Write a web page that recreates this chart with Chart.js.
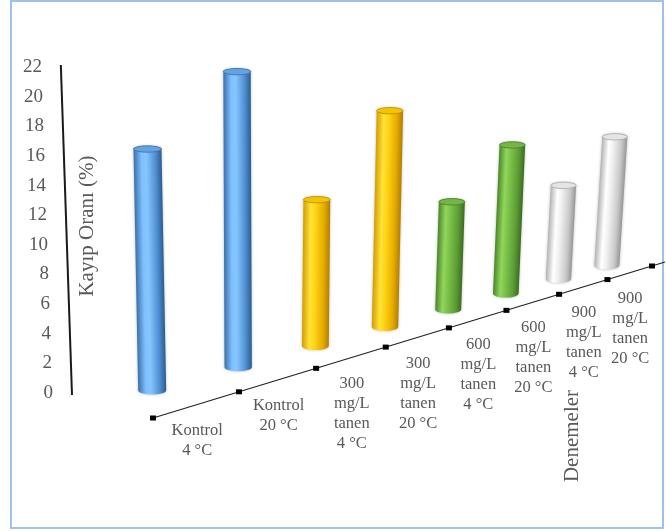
<!DOCTYPE html>
<html>
<head>
<meta charset="utf-8">
<script src="https://cdn.jsdelivr.net/npm/chart.js@4.4.1/dist/chart.umd.min.js"></script>
<style>
html,body{margin:0;padding:0;background:#fff;}
canvas{display:block;}
</style>
</head>
<body>
<canvas id="lossChart" width="666" height="531"></canvas>
<script>
const categories = [
    ["Kontrol","4 °C"],
    ["Kontrol","20 °C"],
    ["300","mg/L","tanen","4 °C"],
    ["300","mg/L","tanen","20 °C"],
    ["600","mg/L","tanen","4 °C"],
    ["600","mg/L","tanen","20 °C"],
    ["900","mg/L","tanen","4 °C"],
    ["900","mg/L","tanen","20 °C"]
];
const lossValues = [16.3, 20.6, 10.5, 15.9, 8.1, 11.4, 7.3, 10.2];
const yMax = 22;
const yStep = 2;
const yTitle = "Kayıp Oranı (%)";
const xTitle = "Denemeler";

// gradient stops across each cylinder, left to right, then top cap and rim
const palette = {
    blue:   {body:["#3b71aa","#7fc0ff","#86c6ff","#4f8ed0","#2b5d90"], top:"#63a3e2", rim:"#3d6f9f"},
    yellow: {body:["#d39e00","#ffe23a","#ffd516","#e4aa00","#b07f00"], top:"#f5c400", rim:"#b98c00"},
    green:  {body:["#4c8629","#92d65c","#7cc34a","#5b9b35","#3c6b22"], top:"#75b548", rim:"#4a7f2b"},
    grey:   {body:["#b3b3b3","#ffffff","#f1f1f1","#c9c9c9","#979797"], top:"#e4e4e4", rim:"#a9a9a9"}
};
const barColors = ["blue","blue","yellow","yellow","green","green","grey","grey"];

const serif = "'Liberation Serif', 'Times New Roman', serif";
const textGrey = "#595959";

// fake perspective of the excel 3d view
const depth = 0.457;
const floorDrop = 25;
const floorSlope = 0.3046;
const vanishX = 260;
const lean = 0.00018;

function perspX(area, px){
    const w = area.right - area.left;
    const u = (px - area.left) / w;
    return {u:u, x: area.left + w * u * (1 + depth) / (1 + depth * u)};
}
function depthScale(u){
    const r = (1 + depth / 16) / (1 + depth * u);
    return r * r;
}
function floorY(area, x){
    return area.bottom + floorDrop - floorSlope * (x - area.left);
}

function drawCylinder(ctx, bx, by, h, w, shear, c){
    const r = w / 2, eb = 4, et = 3.2;
    ctx.save();
    ctx.translate(bx, by);
    ctx.transform(1, 0, shear, 1, 0, 0);
    const g = ctx.createLinearGradient(-r, 0, r, 0);
    g.addColorStop(0, c.body[0]);
    g.addColorStop(0.28, c.body[1]);
    g.addColorStop(0.45, c.body[2]);
    g.addColorStop(0.78, c.body[3]);
    g.addColorStop(1, c.body[4]);
    ctx.shadowColor = "rgba(0,0,0,0.28)";
    ctx.shadowBlur = 3;
    ctx.fillStyle = g;
    ctx.beginPath();
    ctx.moveTo(-r, -h);
    ctx.lineTo(-r, 0);
    ctx.ellipse(0, 0, r, eb, 0, Math.PI, 0, true);
    ctx.lineTo(r, -h);
    ctx.ellipse(0, -h, r, et, 0, 0, Math.PI, true);
    ctx.closePath();
    ctx.fill();
    ctx.shadowBlur = 0;
    ctx.shadowColor = "transparent";
    ctx.fillStyle = c.top;
    ctx.strokeStyle = c.rim;
    ctx.lineWidth = 0.8;
    ctx.beginPath();
    ctx.ellipse(0, -h, r, et, 0, 0, Math.PI * 2);
    ctx.fill();
    ctx.stroke();
    ctx.restore();
}

const fakeThreeD = {
    id: "fakeThreeD",
    beforeDraw(chart){
        const ctx = chart.ctx;
        ctx.save();
        ctx.fillStyle = "#fff";
        ctx.fillRect(0, 0, chart.width, chart.height);
        ctx.strokeStyle = "#9dc3e6";
        ctx.lineWidth = 2;
        ctx.strokeRect(11, 1, 652, 527);
        ctx.restore();
    },
    afterDatasetsDraw(chart){
        const ctx = chart.ctx;
        const area = chart.chartArea;
        const xs = chart.scales.x;
        const ys = chart.scales.y;
        ctx.save();

        // value axis, leaning a little like the original
        const axBottomX = 72, axBottomY = ys.getPixelForValue(0) + 2;
        const axisX = py => axBottomX - (vanishX - axBottomX) * lean * (axBottomY - py);
        const axTop = ys.getPixelForValue(yMax) - 2;
        ctx.strokeStyle = "#1a1a1a";
        ctx.lineWidth = 2;
        ctx.beginPath();
        ctx.moveTo(axisX(axBottomY), axBottomY);
        ctx.lineTo(axisX(axTop), axTop);
        ctx.stroke();

        ctx.fillStyle = textGrey;
        ctx.font = "19px " + serif;
        ctx.textAlign = "right";
        ctx.textBaseline = "middle";
        ys.ticks.forEach(t => {
            const py = ys.getPixelForValue(t.value);
            ctx.fillText(String(t.value), axisX(py) - 19, py);
        });

        // floor edge with tick marks between categories
        const startX = perspX(area, xs.getPixelForValue(-0.5)).x;
        ctx.strokeStyle = "#222";
        ctx.lineWidth = 1.2;
        ctx.beginPath();
        ctx.moveTo(startX, floorY(area, startX));
        ctx.lineTo(665, floorY(area, 665));
        ctx.stroke();
        ctx.fillStyle = "#000";
        for (let i = 0; i <= categories.length; i++) {
            const tx = perspX(area, xs.getPixelForValue(i - 0.5)).x;
            ctx.fillRect(tx - 3, floorY(area, tx) - 2.5, 6, 5);
        }

        // cylinders
        const meta = chart.getDatasetMeta(0);
        meta.data.forEach((bar, i) => {
            const p = perspX(area, bar.x);
            const s = depthScale(p.u);
            const bx = p.x - 45 * s;
            const by = floorY(area, p.x) - 14 * s;
            const h = (bar.base - bar.y) * (0.69 + 0.31 * s);
            const w = 28 * (0.78 + 0.22 * s);
            const shear = (vanishX - bx) * lean;
            drawCylinder(ctx, bx, by, h, w, shear, palette[barColors[i]]);
        });

        // category labels under the floor edge
        ctx.fillStyle = textGrey;
        ctx.font = "16.5px " + serif;
        ctx.textAlign = "center";
        ctx.textBaseline = "middle";
        categories.forEach((lines, i) => {
            const lx = perspX(area, xs.getPixelForValue(i)).x;
            const ly = floorY(area, lx) + 26;
            lines.forEach((line, j) => ctx.fillText(line, lx, ly + j * 20));
        });

        // axis titles
        ctx.font = "21px " + serif;
        ctx.save();
        ctx.translate(87, 226);
        ctx.rotate(-Math.PI / 2);
        ctx.fillText(yTitle, 0, 0);
        ctx.restore();
        ctx.save();
        ctx.translate(572, 436);
        ctx.rotate(-Math.PI / 2);
        ctx.fillText(xTitle, 0, 0);
        ctx.restore();

        ctx.restore();
    }
};

const lossChart = new Chart(
document.getElementById("lossChart"),
{
    type:"bar",
    data:{
        labels:categories,
        datasets:[{
            label:yTitle,
            data:lossValues,
            backgroundColor:"rgba(0,0,0,0)",
            borderWidth:0
        }]
    },
    options:{
        responsive:false,
        animation:false,
        devicePixelRatio:1,
        layout:{padding:{left:153, right:14, top:67, bottom:138}},
        plugins:{legend:{display:false}, tooltip:{enabled:false}},
        scales:{
            x:{display:false},
            y:{display:false, min:0, max:yMax, ticks:{stepSize:yStep}}
        }
    },
    plugins:[fakeThreeD]
});
</script>
</body>
</html>
